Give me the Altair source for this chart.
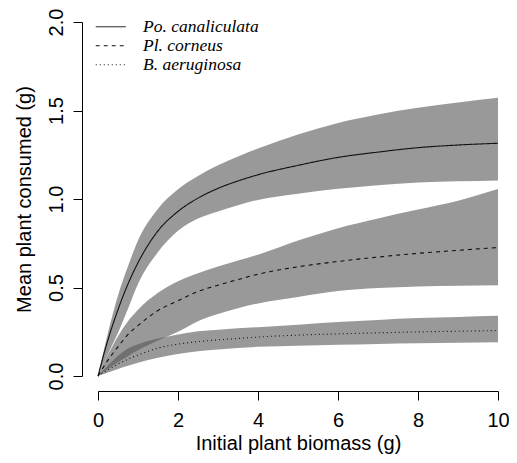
import altair as alt
import pandas as pd

# ---- data ----
x_vals = [0, 0.25, 0.5, 0.75, 1, 1.5, 2, 2.5, 3, 3.5, 4, 5, 6, 7, 8, 9, 10]

species = ["Po. canaliculata", "Pl. corneus", "B. aeruginosa"]

po_mean = [0, 0.205, 0.375, 0.52, 0.64, 0.82, 0.93, 1.005, 1.06, 1.102, 1.137, 1.19, 1.235, 1.265, 1.29, 1.305, 1.315]
po_lower = [0, 0.125, 0.245, 0.38, 0.52, 0.70, 0.82, 0.89, 0.93, 0.965, 0.995, 1.03, 1.058, 1.078, 1.093, 1.10, 1.105]
po_upper = [0, 0.245, 0.455, 0.62, 0.765, 0.945, 1.055, 1.13, 1.19, 1.24, 1.285, 1.365, 1.43, 1.478, 1.515, 1.545, 1.572]

pl_mean = [0, 0.09, 0.165, 0.235, 0.285, 0.37, 0.425, 0.478, 0.513, 0.545, 0.575, 0.617, 0.647, 0.672, 0.693, 0.71, 0.726]
pl_lower = [0, 0.04, 0.078, 0.112, 0.145, 0.20, 0.25, 0.31, 0.35, 0.383, 0.41, 0.447, 0.48, 0.497, 0.506, 0.51, 0.513]
pl_upper = [0, 0.12, 0.225, 0.31, 0.375, 0.47, 0.535, 0.58, 0.618, 0.652, 0.685, 0.765, 0.835, 0.89, 0.94, 0.99, 1.056]

b_mean = [0, 0.035, 0.067, 0.095, 0.118, 0.158, 0.18, 0.194, 0.204, 0.212, 0.22, 0.231, 0.238, 0.244, 0.249, 0.253, 0.257]
b_lower = [0, 0.02, 0.04, 0.058, 0.075, 0.103, 0.125, 0.14, 0.15, 0.158, 0.165, 0.171, 0.176, 0.181, 0.185, 0.188, 0.191]
b_upper = [0, 0.06, 0.115, 0.155, 0.18, 0.212, 0.235, 0.253, 0.262, 0.27, 0.276, 0.29, 0.305, 0.317, 0.327, 0.334, 0.341]

x_ticks = [0, 2, 4, 6, 8, 10]
y_ticks = [0, 0.5, 1.0, 1.5, 2.0]
dashes = [[1, 0], [4, 4], [1, 3]]

rows = []
for sp, m, lo, up in zip(species,
                         [po_mean, pl_mean, b_mean],
                         [po_lower, pl_lower, b_lower],
                         [po_upper, pl_upper, b_upper]):
    for xv, mv, lv, uv in zip(x_vals, m, lo, up):
        rows.append({"species": sp, "x": xv, "mean": mv, "lower": lv, "upper": uv})
df = pd.DataFrame(rows)

FONT = "Liberation Sans"

xscale = alt.Scale(domain=[0, 10], nice=False, zero=False)
yscale = alt.Scale(domain=[0, 2], nice=False, zero=False)

xaxis = alt.Axis(values=x_ticks, format="d", grid=False, offset=15, tickSize=9,
                 labelPadding=10, labelFontSize=20, labelFont=FONT, labelColor="black",
                 labelFlush=False, labelOverlap=False,
                 domainColor="black", tickColor="black", domainWidth=1, tickWidth=1,
                 title="Initial plant biomass (g)", titleFont=FONT, titleFontSize=20,
                 titleFontWeight="normal", titleColor="black",
                 titleBaseline="alphabetic", titleY=58)

yaxis = alt.Axis(values=y_ticks, format=".1f", grid=False, offset=16, tickSize=9,
                 labelAngle=270, labelAlign="center", labelBaseline="alphabetic",
                 labelPadding=11, labelFontSize=20, labelFont=FONT, labelColor="black",
                 labelFlush=False, labelOverlap=False,
                 domainColor="black", tickColor="black", domainWidth=1, tickWidth=1,
                 title="Mean plant consumed (g)", titleFont=FONT, titleFontSize=20,
                 titleFontWeight="normal", titleColor="black",
                 titleBaseline="alphabetic", titleAngle=270, titleX=-52, titleY=177)

base = alt.Chart(df)

bands = base.mark_area(interpolate="monotone", fill="#555555", fillOpacity=0.6).encode(
    x=alt.X("x:Q", scale=xscale, axis=xaxis),
    y=alt.Y("lower:Q", scale=yscale, axis=yaxis),
    y2="upper:Q",
    detail="species:N",
)

lines = base.mark_line(interpolate="monotone", color="#111111", strokeWidth=1.1).encode(
    x=alt.X("x:Q", scale=xscale, axis=xaxis),
    y=alt.Y("mean:Q", scale=yscale, axis=yaxis),
    strokeDash=alt.StrokeDash(
        "species:N",
        scale=alt.Scale(domain=species, range=dashes),
        legend=alt.Legend(title=None, orient="none", legendX=4, legendY=-4,
                          symbolType="M-3,0H3", symbolSize=100, symbolStrokeWidth=1,
                          symbolStrokeColor="#111111", symbolOffset=0,
                          labelOffset=23.5, labelFont="Liberation Serif",
                          labelFontStyle="italic", labelFontSize=17.5, labelColor="black",
                          rowPadding=0, padding=0),
    ),
    order="x:Q",
)

chart = alt.layer(bands, lines).properties(
    width=400, height=354,
    autosize=alt.AutoSizeParams(type="none"),
    padding={"left": 90, "top": 14, "right": 11, "bottom": 79},
).configure_view(stroke=None)

chart.save("out.html", embed_options={"renderer": "svg", "actions": False})
